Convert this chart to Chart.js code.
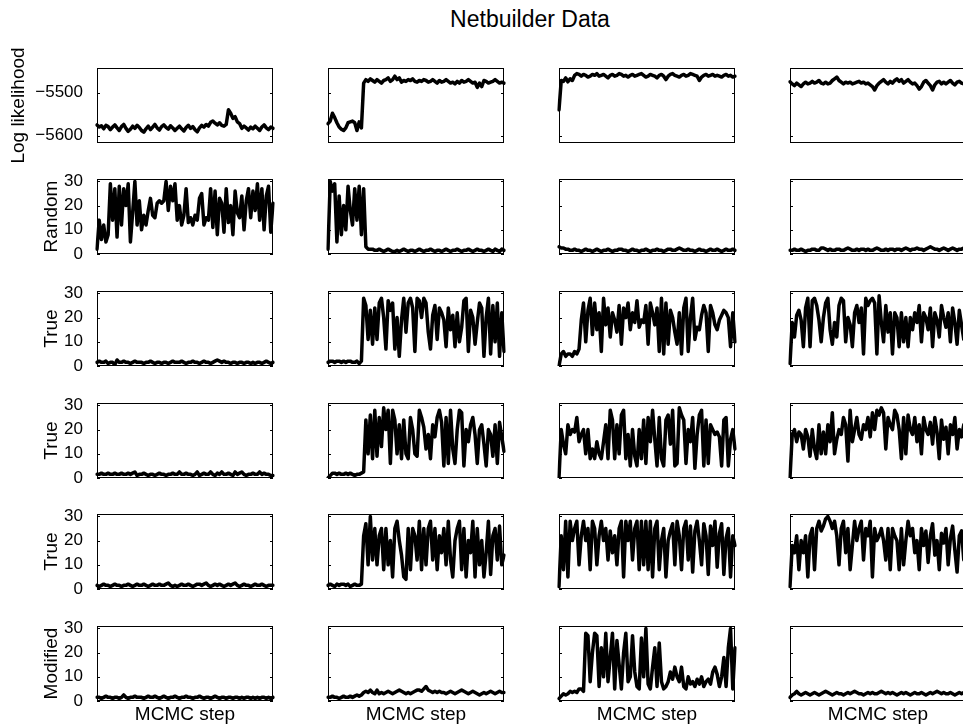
<!DOCTYPE html>
<html>
<head>
<meta charset="utf-8">
<script src="https://cdn.jsdelivr.net/npm/chart.js@4.4.1/dist/chart.umd.min.js"></script>
<style>
  html, body { margin: 0; padding: 0; background: #fff; overflow: hidden; }
  body { width: 963px; height: 727px; position: relative; font-family: "Liberation Sans", Arial, Helvetica, sans-serif; }
  canvas { position: absolute; }
  #title { position: absolute; left: 530px; top: 8px; transform: translateX(-50%); font-size: 23px; line-height: 23px; white-space: nowrap; color: #000; }
</style>
</head>
<body>
<div id="title">Netbuilder Data</div>
<script>
// one row per quantity, one column per MCMC run (80 samples each)
const logLik1 = [
  -5575,-5580,-5577,-5584,-5576,-5579,-5586,-5580,-5575,-5582,
  -5588,-5579,-5574,-5583,-5590,-5585,-5578,-5583,-5576,-5581,
  -5588,-5592,-5584,-5578,-5586,-5580,-5574,-5582,-5587,-5579,
  -5575,-5581,-5585,-5577,-5582,-5588,-5583,-5578,-5584,-5589,
  -5581,-5576,-5583,-5579,-5586,-5591,-5582,-5576,-5580,-5574,
  -5578,-5569,-5566,-5571,-5575,-5570,-5576,-5578,-5574,-5540,
  -5548,-5560,-5556,-5568,-5572,-5583,-5578,-5582,-5587,-5580,
  -5584,-5578,-5583,-5588,-5580,-5575,-5582,-5586,-5580,-5583];
const logLik2 = [
  -5572,-5566,-5548,-5558,-5570,-5580,-5585,-5588,-5582,-5570,
  -5568,-5566,-5570,-5588,-5568,-5582,-5478,-5470,-5474,-5468,
  -5472,-5476,-5470,-5474,-5478,-5472,-5470,-5466,-5474,-5470,
  -5462,-5470,-5466,-5476,-5472,-5474,-5470,-5472,-5468,-5474,
  -5476,-5472,-5474,-5470,-5472,-5476,-5474,-5470,-5474,-5478,
  -5472,-5476,-5474,-5470,-5474,-5478,-5476,-5480,-5474,-5478,
  -5472,-5476,-5474,-5470,-5474,-5478,-5476,-5488,-5478,-5486,
  -5472,-5474,-5478,-5476,-5474,-5470,-5474,-5478,-5476,-5478];
const logLik3 = [
  -5540,-5472,-5474,-5466,-5475,-5468,-5472,-5460,-5456,-5458,
  -5462,-5458,-5460,-5464,-5462,-5458,-5460,-5456,-5462,-5460,
  -5458,-5462,-5466,-5460,-5458,-5462,-5460,-5456,-5458,-5462,
  -5460,-5464,-5460,-5458,-5462,-5460,-5458,-5456,-5460,-5464,
  -5462,-5458,-5460,-5462,-5466,-5460,-5458,-5462,-5470,-5462,
  -5458,-5456,-5460,-5462,-5464,-5460,-5458,-5462,-5460,-5456,
  -5458,-5460,-5462,-5472,-5464,-5460,-5458,-5462,-5460,-5458,
  -5462,-5460,-5462,-5464,-5460,-5458,-5462,-5460,-5464,-5462];
const logLik4 = [
  -5475,-5480,-5484,-5478,-5482,-5486,-5480,-5476,-5480,-5478,
  -5474,-5478,-5476,-5472,-5478,-5480,-5476,-5480,-5478,-5472,
  -5468,-5464,-5472,-5476,-5480,-5476,-5478,-5476,-5480,-5478,
  -5476,-5474,-5478,-5476,-5480,-5478,-5482,-5486,-5494,-5484,
  -5478,-5474,-5470,-5476,-5480,-5474,-5478,-5472,-5468,-5474,
  -5470,-5478,-5474,-5470,-5476,-5480,-5478,-5484,-5492,-5486,
  -5476,-5472,-5478,-5484,-5494,-5482,-5476,-5474,-5480,-5476,
  -5480,-5476,-5472,-5478,-5482,-5476,-5474,-5478,-5480,-5476];

const random1 = [
  2, 14, 6, 12, 5, 8, 29, 14, 27, 7,
  28, 12, 27, 20, 29, 5, 17, 30, 12, 22,
  10, 16, 12, 18, 23, 16, 15, 21, 22, 21,
  22, 30, 18, 28, 22, 29, 14, 20, 12, 16,
  27, 13, 15, 12, 16, 14, 23, 25, 12, 15,
  14, 27, 11, 26, 8, 23, 21, 9, 27, 13,
  20, 8, 26, 17, 15, 24, 10, 22, 27, 15,
  26, 18, 29, 14, 27, 10, 24, 28, 9, 21];
const random2 = [
  2, 30, 26, 29, 5, 24, 8, 20, 10, 28,
  18, 12, 27, 14, 28, 8, 27, 3, 2, 2,
  2, 1.5, 1.5, 2, 1.5, 1, 1.5, 2, 1.5, 1,
  1, 1.5, 1, 1.5, 2, 1.5, 1, 1.5, 1.5, 1,
  1.5, 2, 1.5, 1, 1.5, 1.5, 2, 1.5, 1, 1.5,
  1.5, 1, 1.5, 2, 1.5, 1, 1.5, 1.5, 2, 1.5,
  1, 1.5, 1.5, 2, 1.5, 1, 1.5, 2, 1.5, 1.5,
  1, 1.5, 2, 1.5, 1, 2, 1.5, 1, 2, 1.5];
const random3 = [
  3, 2.5, 2.5, 2, 2, 1.5, 1.5, 2, 1.5, 1.5,
  1, 1.5, 2, 1.5, 1.5, 1, 1.5, 2, 1.5, 1,
  1.5, 1.5, 2, 1.5, 1, 1.5, 1.5, 2, 2, 1.5,
  1.5, 1, 1.5, 2, 1.5, 1.5, 1, 1.5, 1.5, 2,
  1.5, 1, 1.5, 1.5, 2, 1.5, 1.5, 1, 1.5, 2,
  2, 1.5, 1.5, 2, 2.5, 2, 1.5, 1.5, 2, 1.5,
  1.5, 1, 1.5, 2, 1.5, 1.5, 1, 1.5, 2, 1.5,
  1.5, 2, 1.5, 1, 1.5, 2, 1.5, 1.5, 2, 1.5];
const random4 = [
  1.5, 1.5, 2, 1.5, 1.5, 2, 1.5, 1, 1.5, 1.5,
  2, 2, 1.5, 1.5, 2.5, 2.5, 2, 1.5, 2, 1.5,
  1.5, 2, 2, 1.5, 1.5, 2, 2.5, 2, 1.5, 1.5,
  2, 1.5, 2, 2, 1.5, 2, 1.5, 1.5, 2, 2.5,
  2, 1.5, 1.5, 2, 1.5, 2, 2, 1.5, 2, 2,
  1.5, 2, 2.5, 2, 1.5, 2, 2, 2.5, 2, 2,
  1.5, 2, 2.5, 3, 2.5, 2, 2, 1.5, 2, 2.5,
  2, 1.5, 2, 2.5, 2, 1.5, 2, 2, 2.5, 2];

const trueA1 = [
  1.5, 2, 1.5, 1.5, 2, 1, 1.5, 1.5, 0.5, 2.5,
  1.5, 1.5, 2, 1.5, 1.5, 1, 1.5, 2, 1.5, 1.5,
  1.5, 1, 1.5, 1.5, 2, 1.5, 1, 1.5, 1.5, 1,
  1.5, 1.5, 1, 1.5, 2, 1.5, 1.5, 1.5, 2, 1.5,
  1, 1.5, 1.5, 2, 1.5, 1.5, 1, 1.5, 2, 1.5,
  1.5, 1, 1.5, 2, 2.5, 2, 1.5, 2, 1.5, 1.5,
  1, 1.5, 1.5, 1, 1.5, 1.5, 1, 1.5, 1.5, 1,
  1.5, 1, 1.5, 1.5, 1, 1.5, 2, 1.5, 1, 1.5];
const trueA2 = [
  1.5, 2, 2, 1.5, 2, 2, 1.5, 2, 1.5, 2,
  2, 1.5, 1.5, 2, 1, 2, 28, 25, 11, 23,
  9, 24, 11, 26, 28, 20, 7, 27, 23, 26,
  7, 20, 4, 19, 28, 14, 26, 28, 24, 6,
  28, 27, 20, 28, 26, 14, 7, 21, 25, 11,
  24, 22, 19, 8, 24, 15, 21, 8, 22, 10,
  16, 27, 28, 6, 23, 20, 9, 18, 26, 24,
  4, 20, 28, 5, 25, 10, 26, 4, 22, 6];
const trueA3 = [
  0, 5, 6, 4, 5, 5, 4, 6, 5, 7,
  19, 26, 10, 23, 28, 13, 26, 15, 22, 6,
  28, 17, 24, 12, 22, 19, 14, 25, 9, 24,
  20, 26, 15, 22, 18, 27, 16, 19, 18, 25,
  9, 26, 22, 17, 24, 6, 28, 5, 26, 9,
  23, 20, 14, 9, 22, 5, 24, 28, 6, 20,
  28, 11, 16, 15, 21, 25, 22, 6, 25, 22,
  17, 15, 19, 21, 23, 22, 20, 8, 22, 10];
const trueA4 = [
  1, 18, 12, 21, 23, 19, 8, 24, 28, 8,
  27, 28, 25, 19, 10, 20, 26, 28, 15, 9,
  18, 12, 25, 28, 27, 10, 20, 17, 8, 22,
  25, 18, 24, 5, 28, 25, 27, 28, 26, 5,
  29, 18, 10, 25, 14, 22, 5, 22, 20, 8,
  22, 10, 20, 8, 20, 15, 22, 18, 25, 10,
  22, 20, 15, 24, 8, 22, 19, 12, 25, 20,
  16, 22, 10, 24, 18, 9, 23, 17, 11, 21];

const trueB1 = [
  1.5, 1.5, 2, 1.5, 1.5, 2, 1.5, 1.5, 2, 1.5,
  1.5, 2, 1.5, 1.5, 2, 1.5, 2, 2.5, 1, 1.5,
  1.5, 2, 1.5, 1, 1.5, 1.5, 1, 1.5, 2, 1.5,
  1.5, 1, 1.5, 1.5, 2, 1.5, 1.5, 2.5, 1.5, 1.5,
  2, 1.5, 1.5, 1, 1.5, 2.5, 1, 1.5, 2, 1.5,
  1.5, 2.5, 1.5, 1, 2, 1.5, 2.5, 1.5, 1.5, 2,
  1.5, 1, 2.5, 1.5, 2, 2.5, 1.5, 1, 1.5, 1.5,
  2, 1.5, 1.5, 2.5, 1.5, 2, 1.5, 1.5, 1, 1];
const trueB2 = [
  0, 1, 2, 2, 1.5, 2, 1.5, 1.5, 2, 1.5,
  2, 1.5, 1, 1.5, 1.5, 2, 2.5, 24, 10, 26,
  8, 28, 9, 25, 13, 29, 20, 28, 6, 28,
  24, 10, 22, 8, 24, 10, 8, 25, 20, 10,
  9, 28, 25, 21, 12, 18, 8, 22, 17, 25,
  28, 23, 5, 25, 6, 28, 12, 6, 20, 28,
  27, 5, 20, 15, 22, 25, 18, 6, 20, 22,
  14, 5, 20, 18, 9, 22, 6, 23, 17, 11];
const trueB3 = [
  0, 20, 14, 10, 22, 18, 20, 19, 25, 15,
  18, 20, 10, 20, 8, 12, 8, 15, 10, 8,
  15, 22, 8, 28, 24, 8, 22, 10, 26, 28,
  8, 18, 5, 20, 9, 5, 20, 8, 24, 6,
  25, 15, 28, 16, 5, 25, 8, 5, 24, 26,
  14, 28, 5, 6, 29, 26, 24, 6, 20, 15,
  25, 4, 18, 26, 28, 5, 24, 6, 22, 20,
  18, 19, 17, 5, 24, 25, 5, 16, 20, 12];
const trueB4 = [
  0, 18, 20, 15, 19, 18, 12, 20, 17, 9,
  20, 12, 8, 22, 10, 19, 10, 22, 15, 27,
  10, 16, 20, 18, 25, 22, 7, 28, 15, 20,
  25, 18, 16, 22, 20, 25, 17, 27, 20, 28,
  26, 29, 27, 12, 25, 22, 20, 28, 26, 20,
  8, 25, 10, 26, 20, 18, 25, 15, 22, 10,
  25, 20, 18, 23, 14, 25, 19, 8, 24, 16,
  21, 10, 22, 18, 25, 12, 20, 17, 22, 15];

const trueC1 = [
  1.5, 1, 1.5, 2, 1.5, 1.5, 1, 1.5, 2, 1.5,
  1.5, 1, 1.5, 1.5, 2, 1.5, 1, 1.5, 2, 1.5,
  1.5, 2, 1.5, 1, 1.5, 2, 1.5, 1.5, 2, 1.5,
  1.5, 2, 2.5, 1.5, 1, 1.5, 1, 1.5, 2, 1.5,
  1.5, 2, 1.5, 1, 1.5, 2, 2, 1.5, 2, 2.5,
  1.5, 1, 1.5, 2, 1.5, 2, 1.5, 1, 1.5, 2,
  1.5, 2, 2.5, 1.5, 1, 1.5, 2, 1.5, 1.5, 1,
  1.5, 2, 1.5, 1.5, 2, 1.5, 1, 1.5, 1.5, 1.5];
const trueC2 = [
  1.5, 2, 1.5, 1, 2, 1.5, 2, 2, 1.5, 2,
  1, 1.5, 2, 1.5, 1.5, 2, 22, 27, 10, 30,
  12, 25, 10, 22, 25, 8, 25, 10, 20, 5,
  25, 28, 20, 14, 5, 4, 25, 8, 25, 22,
  12, 28, 8, 25, 10, 25, 28, 12, 25, 8,
  22, 15, 25, 10, 28, 12, 5, 20, 25, 28,
  8, 25, 5, 20, 15, 28, 5, 25, 10, 20,
  5, 15, 28, 6, 22, 25, 12, 26, 10, 14];
const trueC3 = [
  1, 22, 8, 28, 5, 28, 20, 25, 28, 10,
  22, 28, 20, 25, 8, 28, 25, 10, 22, 28,
  20, 25, 12, 24, 15, 22, 10, 25, 28, 5,
  28, 20, 28, 12, 25, 28, 8, 28, 10, 28,
  8, 28, 5, 25, 28, 8, 20, 25, 5, 20,
  24, 27, 10, 28, 22, 8, 25, 28, 12, 26,
  7, 24, 28, 20, 10, 27, 22, 6, 26, 18,
  28, 9, 23, 27, 6, 21, 25, 5, 22, 18];
const trueC4 = [
  1, 18, 15, 22, 8, 20, 15, 22, 5, 22,
  25, 8, 25, 28, 24, 26, 29, 30, 28, 25,
  28, 22, 10, 25, 28, 15, 25, 8, 18, 28,
  20, 25, 28, 12, 25, 22, 28, 5, 25, 20,
  22, 25, 20, 12, 25, 8, 25, 22, 20, 8,
  25, 10, 20, 28, 22, 25, 15, 20, 8, 25,
  18, 24, 11, 22, 27, 14, 20, 8, 23, 19,
  25, 10, 21, 26, 16, 7, 22, 24, 12, 20];

const modified1 = [
  1.5, 1.5, 1, 1.5, 2, 1.5, 1.5, 1, 1.5, 1.5,
  1, 1.5, 2.5, 1.5, 1, 1.5, 1.5, 2, 1.5, 1.5,
  1.5, 1, 1.5, 2, 1.5, 1.5, 2, 1.5, 1, 1.5,
  2, 1.5, 1, 1.5, 1.5, 2, 1.5, 1, 1.5, 1.5,
  2, 1.5, 1.5, 1, 1.5, 1.5, 2, 1.5, 1, 1.5,
  1.5, 1, 1.5, 2, 1.5, 1, 1.5, 1.5, 1, 1.5,
  1.5, 1, 1.5, 1.5, 1, 1.5, 1, 1.5, 1.5, 1,
  1.5, 1, 1.5, 1, 1.5, 1.5, 1, 1.5, 1, 1.5];
const modified2 = [
  1.5, 1.5, 2, 1.5, 1.5, 1, 1.5, 2, 1.5, 1.5,
  2, 1.5, 2, 2.5, 2, 2.5, 3.5, 4, 3.5, 4.5,
  3.5, 3, 4.5, 3, 3.5, 3, 3.5, 4, 3.5, 3,
  3.5, 4, 4.5, 4, 3.5, 3, 3.5, 3, 3.5, 4,
  4.5, 4.5, 4, 5, 6, 4.5, 4, 3.5, 4, 3.5,
  4, 3.5, 3.5, 3, 3.5, 4, 3.5, 3, 3.5, 4,
  4.5, 4, 3.5, 3, 3.5, 4, 3.5, 3, 2.5, 3,
  3.5, 3, 3.5, 4, 3.5, 3, 3.5, 4, 3.5, 3.5];
const modified3 = [
  1, 2, 3, 2.5, 3, 4, 3.5, 4, 3.5, 5,
  5, 4, 28, 27, 8, 20, 28, 27, 6, 22,
  10, 28, 8, 18, 28, 5, 25, 15, 5, 20,
  28, 8, 10, 27, 12, 6, 5, 26, 10, 30,
  7, 5, 14, 22, 6, 24, 8, 5, 6, 8,
  12, 9, 14, 10, 8, 14, 6, 5, 10, 7,
  8, 6, 9, 7, 10, 6, 8, 9, 7, 12,
  14, 11, 6, 10, 18, 6, 22, 30, 5, 22];
const modified4 = [
  1.5, 2.5, 3, 4, 3, 2.5, 3, 3.5, 3, 2.5,
  3, 3.5, 3, 2.5, 3, 3.5, 4, 3.5, 3, 2.5,
  3, 3.5, 3, 3, 2.5, 3, 3.5, 3, 3.5, 4,
  3.5, 3, 3, 2.5, 3, 3.5, 3, 3.5, 3, 3,
  3.5, 4, 3.5, 3, 3.5, 3, 3.5, 3, 2.5, 3,
  3.5, 3, 3.5, 3, 2.5, 3, 3.5, 3, 3, 3.5,
  3, 2.5, 3, 3.5, 3, 3.5, 4, 3.5, 3, 3.5,
  3, 3, 3.5, 3, 2.5, 3, 3.5, 3, 3.5, 3];

const steps = logLik1.map((v, i) => i + 1);
const rowLabels = ['Log likelihood', 'Random', 'True', 'True', 'True', 'Modified'];
const logLikTicks = [-5600, -5500];
const countTicks = [0, 10, 20, 30];
const xLabel = 'MCMC step';

const rows = [
  { label: rowLabels[0], ticks: logLikTicks, min: -5617, max: -5443, series: [logLik1, logLik2, logLik3, logLik4] },
  { label: rowLabels[1], ticks: countTicks, min: 0, max: 31, series: [random1, random2, random3, random4] },
  { label: rowLabels[2], ticks: countTicks, min: 0, max: 31, series: [trueA1, trueA2, trueA3, trueA4] },
  { label: rowLabels[3], ticks: countTicks, min: 0, max: 31, series: [trueB1, trueB2, trueB3, trueB4] },
  { label: rowLabels[4], ticks: countTicks, min: 0, max: 31, series: [trueC1, trueC2, trueC3, trueC4] },
  { label: rowLabels[5], ticks: countTicks, min: 0, max: 31, series: [modified1, modified2, modified3, modified4] }
];

// layout of the axes boxes on the page
const colLeft = [97, 328, 559, 790];
const rowTop = [68, 179, 291, 403, 514, 626];
const boxW = 176, boxH = 75, pad = 8, tall = 26, xAxisH = 25;

Chart.defaults.font.family = '"Liberation Sans", Arial, Helvetica, sans-serif';
Chart.defaults.color = '#000';

// matlab style box with small inward ticks
const frame = {
  id: 'frame',
  beforeDatasetsDraw(chart, args, opts) {
    const ctx = chart.ctx, a = chart.chartArea, y = chart.scales.y;
    ctx.save();
    ctx.strokeStyle = '#000';
    ctx.lineWidth = 1;
    ctx.strokeRect(a.left + 0.5, a.top + 0.5, a.width - 1, a.height - 1);
    ctx.beginPath();
    opts.ticks.forEach(v => {
      const py = Math.round(y.getPixelForValue(v)) + 0.5;
      ctx.moveTo(a.left, py); ctx.lineTo(a.left + 3, py);
      ctx.moveTo(a.right - 3, py); ctx.lineTo(a.right, py);
    });
    ctx.stroke();
    ctx.restore();
  }
};

rows.forEach((row, r) => {
  row.series.forEach((data, c) => {
    const isLeft = c === 0, isBottom = r === rows.length - 1;
    // left column canvases are taller so the rotated row label is not cut
    const padTop = isLeft ? tall : pad;
    const padBottom = isBottom ? 0 : (isLeft ? tall : pad);
    const cx = isLeft ? 0 : colLeft[c] - pad;
    const cw = isLeft ? colLeft[0] + boxW + pad : boxW + 2 * pad;
    const ch = padTop + boxH + (isBottom ? xAxisH : padBottom);

    const canvas = document.createElement('canvas');
    canvas.width = cw;
    canvas.height = ch;
    canvas.style.width = cw + 'px';
    canvas.style.height = ch + 'px';
    canvas.style.left = cx + 'px';
    canvas.style.top = (rowTop[r] - padTop) + 'px';
    document.body.appendChild(canvas);

    new Chart(canvas.getContext('2d'), {
      type: 'line',
      data: {
        labels: steps,
        datasets: [{
          data: data,
          borderColor: '#000',
          borderWidth: 3.5,
          borderJoinStyle: 'round',
          borderCapStyle: 'round',
          pointRadius: 0,
          tension: 0,
          fill: false
        }]
      },
      options: {
        responsive: false,
        maintainAspectRatio: false,
        animation: false,
        devicePixelRatio: 1,
        events: [],
        layout: { padding: { left: isLeft ? 0 : pad, right: pad, top: padTop, bottom: padBottom } },
        plugins: {
          legend: { display: false },
          tooltip: { enabled: false },
          frame: { ticks: row.ticks }
        },
        scales: {
          x: {
            display: isBottom,
            grid: { display: false },
            border: { display: false },
            ticks: { display: false },
            title: { display: true, text: xLabel, font: { size: 19 }, padding: { top: 2, bottom: 0 } },
            afterFit: s => { if (isBottom) s.height = xAxisH; }
          },
          y: {
            display: isLeft,
            min: row.min,
            max: row.max,
            grid: { display: false },
            border: { display: false },
            afterBuildTicks: s => { s.ticks = row.ticks.map(v => ({ value: v })); },
            afterFit: s => { if (isLeft) s.width = colLeft[0]; },
            ticks: {
              autoSkip: false,
              padding: 6,
              font: { size: 17 },
              callback: v => v < 0 ? '\u2212' + Math.abs(v) : String(v)
            },
            title: { display: true, text: row.label, font: { size: 19 }, padding: { top: r === 0 ? 7 : 40, bottom: 0 } }
          }
        }
      },
      plugins: [frame]
    });
  });
});
</script>
</body>
</html>
